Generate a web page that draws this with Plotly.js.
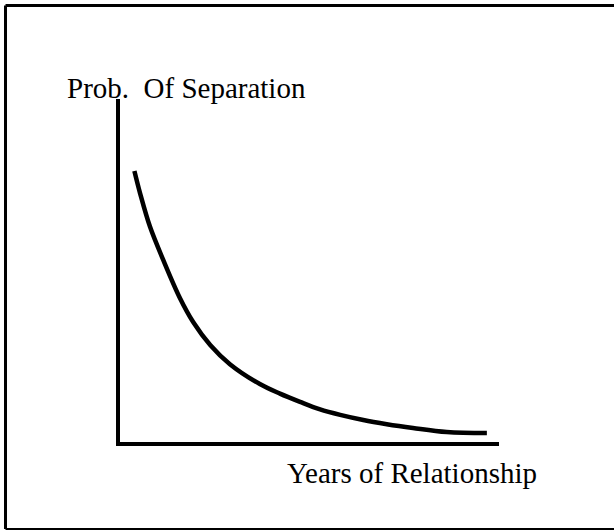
<!DOCTYPE html>
<html>
<head>
<meta charset="utf-8">
<script src="https://cdn.plot.ly/plotly-3.0.1.min.js"></script>
<style>html,body{margin:0;padding:0;background:#fff;}#chart{width:614px;height:531px;}</style>
</head>
<body>
<div id="chart"></div>
<script>
const years = [0.38, 0.53, 0.79, 1.14, 1.58, 1.93, 2.38, 2.90, 3.69, 4.22, 4.75, 5.28, 5.81, 6.42, 7.04, 7.73, 8.62, 9.68];
const probSeparation = [0.790, 0.725, 0.628, 0.531, 0.420, 0.350, 0.283, 0.227, 0.169, 0.141, 0.117, 0.095, 0.079, 0.064, 0.052, 0.041, 0.029, 0.026];
const yLabel = "Prob.\u00a0\u00a0Of Separation";
const xLabel = "Years of Relationship";

const font = {family: "Liberation Serif, Times New Roman, serif", size: 29, color: "#000"};

Plotly.newPlot("chart", [{
  x: years, y: probSeparation, type: "scatter", mode: "lines",
  line: {color: "#000", width: 4.5, shape: "spline", smoothing: 1},
  hoverinfo: "skip"
}], {
  width: 614, height: 531,
  margin: {l: 120, r: 115, t: 99, b: 89},
  paper_bgcolor: "#fff", plot_bgcolor: "#fff",
  showlegend: false,
  xaxis: {range: [0, 10], showline: true, linewidth: 4, linecolor: "#000", showgrid: false, zeroline: false, showticklabels: false, ticks: ""},
  yaxis: {range: [0, 1], showline: true, linewidth: 4, linecolor: "#000", showgrid: false, zeroline: false, showticklabels: false, ticks: ""},
  annotations: [
    {text: yLabel, xref: "paper", yref: "paper", x: -0.145, y: 1.031, xanchor: "left", yanchor: "middle", showarrow: false, font: font},
    {text: xLabel, xref: "paper", yref: "paper", x: 0.435, y: -0.0913, xanchor: "left", yanchor: "middle", showarrow: false, font: font}
  ],
  shapes: [
    {type: "line", xref: "paper", yref: "paper", x0: -0.3021, x1: 1.31, y0: 1.2726, y1: 1.2726, line: {color: "#000", width: 3}},
    {type: "line", xref: "paper", yref: "paper", x0: -0.3021, x1: -0.3021, y0: 1.2726, y1: -0.2536, line: {color: "#000", width: 3}},
    {type: "line", xref: "paper", yref: "paper", x0: -0.3021, x1: 1.31, y0: -0.2536, y1: -0.2536, line: {color: "#000", width: 2}}
  ]
}, {displayModeBar: false, staticPlot: true});
</script>
</body>
</html>
